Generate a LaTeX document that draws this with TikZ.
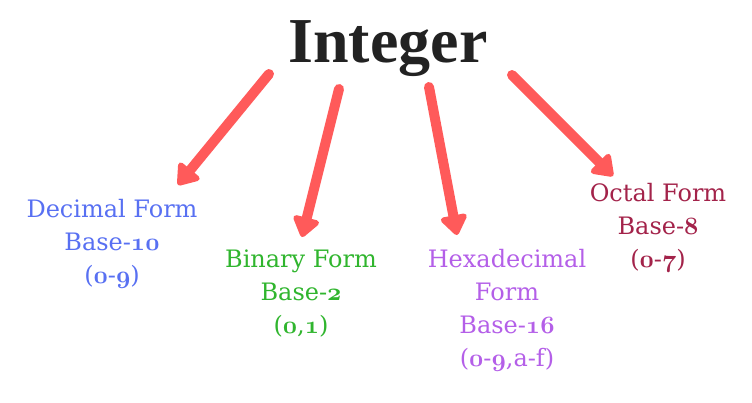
\documentclass[tikz,border=0pt]{standalone}
\usepackage{fontspec}
\usetikzlibrary{arrows.meta}
\newfontfamily\titlefont{Liberation Serif}
\newfontfamily\labelfont{DejaVu Serif}
\newcommand\osnum[1]{{\fontencoding{OML}\fontfamily{cmm}\fontseries{b}\fontshape{it}\fontsize{29}{33}\selectfont #1}}
\definecolor{arrowred}{HTML}{FF5A5A}
\definecolor{titlegray}{HTML}{222222}
\definecolor{decblue}{HTML}{5870F2}
\definecolor{bingreen}{HTML}{30B52E}
\definecolor{hexpurple}{HTML}{B45FE8}
\definecolor{octred}{HTML}{A3234A}
\tikzset{
  bigarrow/.style={draw=arrowred, line width=10pt, line cap=round,
    -{Triangle[round, length=22pt, width=30pt]}},
  label/.style={anchor=base, align=center, inner sep=0pt,
    font=\labelfont\fontsize{24}{33}\selectfont},
  titlestyle/.style={anchor=base, inner sep=0pt, text=titlegray,
    font=\titlefont\bfseries\fontsize{64}{64}\selectfont}
}
\begin{document}
\begin{tikzpicture}[x=1pt, y=-1pt]
\useasboundingbox (0,0) rectangle (752,402);
\node[titlestyle] (int) at (388,62) {Integer};
\node[label, text=decblue] (dec) at (112,283) {Decimal Form\\Base-\osnum{10}\\(\osnum{0}-\osnum{9})};
\node[label, text=bingreen] (bin) at (301,333) {Binary Form\\Base-\osnum{2}\\(\osnum{0},\osnum{1})};
\node[label, text=hexpurple] (hex) at (507,366) {Hexadecimal\\Form\\Base-\osnum{16}\\(\osnum{0}-\osnum{9},a-f)};
\node[label, text=octred] (oct) at (658,267) {Octal Form\\Base-\osnum{8}\\(\osnum{0}-\osnum{7})};
\coordinate (s1) at (269,74);  \coordinate (e1) at (178,185);
\coordinate (s2) at (339,89);  \coordinate (e2) at (302,237);
\coordinate (s3) at (429,87);  \coordinate (e3) at (457,235);
\coordinate (s4) at (512,75);  \coordinate (e4) at (613,176);
\draw[bigarrow] (s1) -- (e1);
\draw[bigarrow] (s2) -- (e2);
\draw[bigarrow] (s3) -- (e3);
\draw[bigarrow] (s4) -- (e4);
\end{tikzpicture}
\end{document}
